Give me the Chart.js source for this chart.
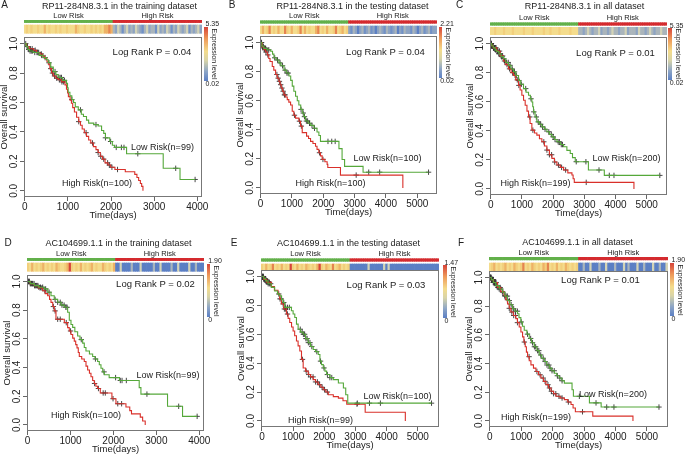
<!DOCTYPE html>
<html>
<head>
<meta charset="utf-8">
<script src="https://cdn.jsdelivr.net/npm/chart.js@4.4.1/dist/chart.umd.min.js"></script>
<style>
  body { margin: 0; background: #fff; }
  #fig { position: relative; width: 685px; height: 455px; overflow: hidden; font-family: "Liberation Sans", Arial, sans-serif; color: #222; }
  .t { position: absolute; white-space: nowrap; transform: translate(-50%, -50%); line-height: 1; }
</style>
</head>
<body>
<div id="fig"></div>
<script>
// ---- axis ticks ----
const ticks4000 = [0, 1000, 2000, 3000, 4000];
const ticks5000 = [0, 1000, 2000, 3000, 4000, 5000];
const yTicks = [0, 0.2, 0.4, 0.6, 0.8, 1.0];

// ---- KM curves: [time(days), survival] ----
const aLow = [[0,1],[30,0.98],[70,0.96],[110,0.95],[190,0.94],[330,0.92],[430,0.905],[500,0.89],[545,0.87],[600,0.84],[660,0.81],[720,0.79],[775,0.77],[870,0.75],[965,0.73],[990,0.70],[1005,0.67],[1045,0.645],[1090,0.62],[1130,0.6],[1170,0.57],[1240,0.55],[1310,0.52],[1360,0.505],[1430,0.48],[1480,0.46],[1600,0.45],[1700,0.44],[1780,0.41],[1830,0.39],[1870,0.36],[1970,0.335],[2030,0.31],[2080,0.295],[2360,0.252],[3210,0.153],[3600,0.077],[3950,0.077]];
const aHigh = [[0,1],[40,0.98],[100,0.965],[200,0.955],[270,0.94],[350,0.93],[410,0.915],[460,0.9],[510,0.88],[545,0.86],[580,0.83],[620,0.8],[660,0.78],[720,0.765],[775,0.755],[850,0.74],[930,0.72],[965,0.69],[990,0.665],[1010,0.64],[1050,0.615],[1080,0.595],[1110,0.565],[1150,0.535],[1200,0.5],[1250,0.47],[1290,0.445],[1330,0.42],[1380,0.395],[1430,0.37],[1480,0.345],[1530,0.325],[1590,0.3],[1650,0.28],[1700,0.26],[1750,0.235],[1800,0.215],[1860,0.19],[1930,0.175],[1990,0.16],[2090,0.145],[2330,0.13],[2550,0.112],[2600,0.09],[2640,0.07],[2680,0.05],[2710,0.03],[2740,0]];
const aLowCens = [50,90,120,150,180,230,280,320,390,470,560,700,790,820,850,880,920,1090,1290,1650,1870,1990,2120,2240,2300,2620,3500,3950];
const aHighCens = [20,60,130,170,240,300,380,600,640,690,740,800,860,900,1250,1420,1570,1700,1760,1830,1920,1960,2020,2150];

const bLow = [[0,1],[40,0.975],[100,0.96],[200,0.95],[320,0.94],[380,0.92],[425,0.895],[500,0.88],[585,0.86],[650,0.84],[745,0.81],[820,0.79],[905,0.77],[960,0.74],[1010,0.70],[1060,0.665],[1115,0.63],[1170,0.6],[1220,0.57],[1280,0.54],[1330,0.515],[1380,0.49],[1435,0.46],[1520,0.445],[1600,0.43],[1700,0.41],[1800,0.385],[1860,0.36],[1910,0.32],[2500,0.27],[2600,0.195],[2680,0.148],[3270,0.108],[5360,0.108]];
const bHigh = [[0,1],[50,0.97],[106,0.95],[160,0.935],[213,0.915],[260,0.89],[300,0.87],[372,0.835],[420,0.81],[478,0.78],[530,0.755],[584,0.733],[620,0.71],[658,0.687],[700,0.665],[744,0.64],[800,0.625],[850,0.607],[900,0.59],[956,0.57],[1009,0.527],[1060,0.5],[1115,0.48],[1221,0.459],[1274,0.425],[1328,0.38],[1466,0.356],[1530,0.34],[1593,0.32],[1670,0.305],[1752,0.287],[1800,0.265],[1858,0.242],[1910,0.22],[1964,0.196],[2050,0.18],[2123,0.162],[2144,0.14],[2548,0.088],[4540,0]];
const bLowCens = [20,50,80,120,160,200,260,450,540,620,700,780,840,880,1290,1360,1400,1460,1500,1560,1640,1720,2150,2270,2380,3450,3800,5360];
const bHighCens = [30,60,90,130,170,230,520,560,600,640,680,720,760,780,1080,1240,1300,1880,1990,3050];

const cLow = [[0,1],[30,0.985],[80,0.97],[140,0.955],[193,0.945],[260,0.93],[330,0.91],[407,0.895],[480,0.87],[567,0.85],[650,0.825],[728,0.805],[800,0.78],[889,0.746],[960,0.72],[1049,0.69],[1130,0.665],[1210,0.644],[1270,0.62],[1317,0.598],[1345,0.565],[1370,0.53],[1420,0.495],[1477,0.461],[1560,0.445],[1638,0.427],[1720,0.41],[1799,0.393],[1880,0.375],[1960,0.358],[2040,0.34],[2120,0.324],[2230,0.305],[2334,0.29],[2440,0.265],[2548,0.244],[2620,0.215],[2709,0.187],[3130,0.13],[3640,0.093],[5420,0.093]];
const cHigh = [[0,1],[30,0.985],[80,0.97],[193,0.948],[300,0.915],[407,0.88],[480,0.855],[567,0.826],[650,0.8],[728,0.781],[800,0.75],[889,0.712],[940,0.68],[996,0.644],[1050,0.61],[1103,0.575],[1160,0.535],[1210,0.495],[1260,0.45],[1317,0.404],[1400,0.385],[1477,0.37],[1560,0.345],[1638,0.324],[1720,0.295],[1799,0.267],[1880,0.235],[1960,0.21],[2040,0.185],[2120,0.164],[2230,0.148],[2334,0.13],[2470,0.11],[2602,0.096],[2640,0.07],[2677,0.045],[4590,0]];
const cLowCens = [10,20,35,50,60,75,90,110,130,160,200,230,260,300,350,420,500,560,620,690,760,820,900,980,1120,1290,1380,1460,1520,1600,1660,1740,1860,1940,2000,2060,2160,2200,2260,2300,2740,3050,3470,3800,3950,5420];
const cHighCens = [15,30,45,65,85,110,140,170,220,280,330,380,440,520,600,700,780,850,900,1250,1350,1700,1800,1880,1950,2050,2170,2270,2400,3060];

const dLow = [[0,1],[60,0.985],[156,0.971],[260,0.96],[389,0.948],[470,0.925],[544,0.9],[620,0.875],[699,0.855],[780,0.835],[855,0.82],[932,0.785],[971,0.73],[1010,0.7],[1049,0.68],[1100,0.65],[1165,0.62],[1220,0.595],[1282,0.57],[1320,0.54],[1359,0.515],[1440,0.495],[1515,0.477],[1570,0.46],[1631,0.442],[1670,0.42],[1709,0.395],[1750,0.37],[1786,0.35],[1900,0.33],[2140,0.31],[2600,0.26],[2640,0.215],[3260,0.13],[3610,0.06],[3950,0.06]];
const dHigh = [[0,1],[60,0.985],[156,0.971],[250,0.955],[350,0.935],[410,0.915],[466,0.9],[510,0.875],[544,0.854],[585,0.825],[621,0.795],[660,0.737],[855,0.713],[932,0.678],[970,0.655],[1010,0.63],[1050,0.605],[1087,0.584],[1120,0.56],[1150,0.537],[1180,0.505],[1204,0.477],[1260,0.46],[1320,0.442],[1360,0.41],[1398,0.383],[1440,0.36],[1476,0.336],[1515,0.31],[1553,0.289],[1590,0.27],[1631,0.254],[1693,0.223],[1964,0.183],[2058,0.148],[2291,0.125],[2380,0.1],[2420,0.077],[2625,0.055],[2680,0.028],[2740,0]];
const dLowCens = [20,40,60,90,120,150,180,220,260,300,350,420,500,640,700,760,800,850,890,920,1250,1580,1780,2050,2160,2200,2300,2780,3520,3950];
const dHighCens = [30,70,110,160,200,240,290,330,400,600,640,700,760,900,1000,1560,1650,1760,1810,1990,2100,2190];

const eLow = [[0,1],[60,0.985],[120,0.97],[194,0.95],[300,0.925],[409,0.9],[500,0.88],[570,0.867],[630,0.84],[677,0.82],[731,0.786],[946,0.763],[1000,0.74],[1054,0.716],[1108,0.67],[1161,0.635],[1240,0.615],[1323,0.6],[1400,0.57],[1484,0.542],[1560,0.515],[1645,0.495],[1720,0.48],[1806,0.46],[1860,0.414],[1910,0.39],[1968,0.367],[2020,0.345],[2075,0.321],[2180,0.3],[2290,0.286],[2452,0.263],[2613,0.228],[2688,0.181],[2753,0.123],[5440,0.123]];
const eHigh = [[0,1],[60,0.98],[150,0.96],[301,0.93],[400,0.905],[516,0.879],[570,0.845],[624,0.81],[700,0.775],[785,0.74],[840,0.71],[892,0.681],[950,0.65],[1000,0.623],[1050,0.59],[1108,0.553],[1160,0.52],[1215,0.484],[1269,0.426],[1323,0.367],[1400,0.345],[1484,0.321],[1560,0.305],[1645,0.286],[1720,0.27],[1806,0.251],[1890,0.233],[1968,0.216],[2050,0.2],[2129,0.181],[2290,0.168],[2452,0.158],[2600,0.14],[2720,0.116],[3312,0.06],[4600,0]];
const eLowCens = [15,30,45,60,80,100,130,160,200,240,280,700,760,820,880,1230,1290,1330,1370,1410,1450,1490,1540,1600,1760,1880,1990,2100,2180,2240,3060,3450,3800,5440];
const eHighCens = [20,40,70,100,130,160,200,240,540,580,620,680,720,760,820,1300,1420,1500,1560,1640,1720,1780,1850,1930,2010,2100,3050];

const fLow = [[0,1],[50,0.985],[110,0.965],[191,0.943],[300,0.92],[404,0.897],[480,0.87],[564,0.839],[640,0.81],[723,0.782],[800,0.765],[883,0.747],[930,0.72],[989,0.69],[1040,0.66],[1096,0.632],[1180,0.605],[1255,0.575],[1330,0.545],[1415,0.517],[1500,0.49],[1574,0.46],[1650,0.437],[1734,0.414],[1810,0.39],[1894,0.368],[1970,0.35],[2053,0.333],[2130,0.315],[2213,0.299],[2290,0.28],[2372,0.264],[2617,0.218],[2660,0.172],[3170,0.126],[3543,0.097],[5383,0.097]];
const fHigh = [[0,1],[50,0.985],[120,0.965],[245,0.93],[350,0.9],[457,0.874],[510,0.845],[564,0.816],[620,0.785],[670,0.759],[750,0.735],[830,0.713],[880,0.685],[936,0.655],[990,0.62],[1043,0.586],[1085,0.55],[1128,0.517],[1165,0.48],[1202,0.448],[1255,0.42],[1309,0.391],[1390,0.368],[1468,0.345],[1550,0.322],[1628,0.299],[1710,0.276],[1787,0.253],[1870,0.23],[1947,0.207],[2030,0.19],[2106,0.172],[2240,0.16],[2372,0.149],[2480,0.132],[2585,0.115],[2650,0.09],[2723,0.064],[3277,0.034],[4555,0]];
const fLowCens = [10,20,30,45,60,75,90,110,130,150,180,210,250,300,350,420,480,520,560,620,680,760,820,880,1000,1200,1300,1360,1420,1460,1520,1560,1620,1700,1760,1820,1880,1920,1980,2050,2150,2230,2300,2850,3380,3720,3950,5383];
const fHighCens = [15,30,50,70,90,115,140,170,200,260,330,400,480,560,620,700,760,820,880,1100,1250,1500,1600,1700,1760,1850,1900,1960,2030,2100,2200,2300,2500,2950];

// ---- expression strips (0 = low ... 9 = high) ----
const aHeatLow = [5,6,5,6,5,5,6,5,5,7,5,6,5,5,6,5,6,5,5,6,5,5,5,7,6,5,5,6,5,5,6,5,6,5,6,5,7,7,8,7];
const aHeatHigh = [3,2,4,3,1,3,4,2,3,2,4,3,2,1,3,4,2,3,3,1,4,2,3,2,4,3,1,3,2,4,3,2,3,4,1,3,2,3,4,2];
const bHeatLow = [5,7,5,6,8,5,6,5,7,5,5,8,6,5,7,5,5,6,8,5,7,5,6,5,5,7,8,5,6,5,7,5,5,6,8,5,6,7,5,6];
const bHeatHigh = [2,1,3,2,0,2,3,1,2,3,1,2,0,2,3,2,1,3,2,1,2,3,0,2,1,3,2,2,1,3,2,0,2,3,1,2,3,1,2,2];
const cHeatLow = [5,5,6,5,5,5,6,5,5,5,6,5,5,5,5,6,5,5,5,6,5,5,5,5,6,5,5,6,5,5,5,6,5,5,5,5,6,5,5,5];
const cHeatHigh = [3,3,2,3,4,3,2,3,3,4,2,3,3,2,3,4,3,3,2,3,3,4,2,3,3,3,2,4,3,3,2,3,4,3,2,3,3,4,3,3];
const dHeatLow = [6,5,7,5,6,5,6,7,5,6,5,6,5,7,6,5,5,6,7,9,6,5,6,5,7,5,6,5,6,7,5,6,5,5,7,6,5,6,5,7];
const dHeatHigh = [0,0,4,0,0,0,0,3,0,0,0,4,0,0,0,0,0,3,0,0,4,0,0,0,0,3,0,0,4,0,0,0,0,4,0,0,3,0,0,0];
const eHeatLow = [6,5,7,5,6,8,5,6,5,7,5,6,5,9,6,5,7,5,6,5,7,6,5,6,5,7,9,6,5,7,6,5,8,5,6,7,5,6,5,6];
const eHeatHigh = [0,0,0,0,0,0,0,0,4,0,0,0,0,0,0,4,0,4,0,0,0,0,0,0,0,0,0,0,0,0,0,0,0,0,0,0,0,0,0,0];
const fHeatLow = [5,6,7,5,6,5,6,7,5,6,5,7,6,5,6,8,5,6,5,7,6,5,6,5,7,6,8,5,6,5,7,5,6,5,7,6,5,6,5,6];
const fHeatHigh = [0,0,3,0,0,4,0,0,0,3,0,0,4,0,0,0,3,0,0,0,4,0,3,0,0,0,4,0,0,3,0,0,0,4,0,0,3,0,0,4];

const PAL = ['#5b7fc4','#7191c6','#8da3c2','#aab5bb','#d3d3b6','#f4dc8c','#f2cf7c','#eeb266','#e5844f','#d6443a'];
const GREEN = '#55a83a', RED = '#d9302a';
const RISK_GREEN = '#62b04a', RISK_RED = '#d42a2e';
const FONT = '"Liberation Sans", Arial, sans-serif';

const panels = [
  {id:'A', title:'RP11-284N8.3.1 in the training dataset', p:'0.04', nLow:99, nHigh:100,
   low:aLow, high:aHigh, lowCens:aLowCens, highCens:aHighCens, heatLow:aHeatLow, heatHigh:aHeatHigh,
   xTicks:ticks4000, xMin:-20, xMax:4110, cbMax:'5.35', cbMin:'0.02',
   box:[24,37,178,160], strip:[20,25,33.3], cb:[204,26.7,81],
   letter:[4.5,4.5], titleAt:[119.5,5.5], pAt:[152,52], lowAt:[162.5,147], highAt:[97,183]},
  {id:'B', title:'RP11-284N8.3.1 in the testing dataset', p:'0.04', nLow:100, nHigh:100,
   low:bLow, high:bHigh, lowCens:bLowCens, highCens:bHighCens, heatLow:bHeatLow, heatHigh:bHeatHigh,
   xTicks:ticks5000, xMin:-20, xMax:5630, cbMax:'2.21', cbMin:'0.02',
   box:[260,36,177,158], strip:[20.7,26,34], cb:[438.7,26.7,78.3],
   letter:[232,4.5], titleAt:[352.5,5.5], pAt:[385.5,52], lowAt:[387.5,158], highAt:[330.5,183]},
  {id:'C', title:'RP11-284N8.3.1 in all dataset', p:'0.01', nLow:200, nHigh:199,
   low:cLow, high:cHigh, lowCens:cLowCens, highCens:cHighCens, heatLow:cHeatLow, heatHigh:cHeatHigh,
   xTicks:ticks5000, xMin:-25, xMax:5650, cbMax:'5.35', cbMin:'0.02',
   box:[490,37,177,158], strip:[22.7,27.3,34.7], cb:[668.3,28.3,80],
   letter:[459.5,4.5], titleAt:[584.5,6], pAt:[615.5,53], lowAt:[626.5,158], highAt:[535.5,183]},
  {id:'D', title:'AC104699.1.1 in the training dataset', p:'0.02', nLow:99, nHigh:100,
   low:dLow, high:dHigh, lowCens:dLowCens, highCens:dHighCens, heatLow:dHeatLow, heatHigh:dHeatHigh,
   xTicks:ticks4000, xMin:-15, xMax:4110, cbMax:'1.90', cbMin:'0',
   box:[27,275,177,156], strip:[258,263,271.3], cb:[206.7,264,317],
   letter:[8,243.3], titleAt:[118.5,243], pAt:[155.5,284], lowAt:[168,375], highAt:[86,415]},
  {id:'E', title:'AC104699.1.1 in the testing dataset', p:'0.03', nLow:100, nHigh:99,
   low:eLow, high:eHigh, lowCens:eLowCens, highCens:eHighCens, heatLow:eHeatLow, heatHigh:eHeatHigh,
   xTicks:ticks5000, xMin:-30, xMax:5680, cbMax:'1.47', cbMin:'0',
   box:[261,270,178,157], strip:[258.7,264,269.7], cb:[443,265.3,318],
   letter:[234,242.5], titleAt:[348.5,243.3], pAt:[386,285], lowAt:[397.5,396], highAt:[320.5,420]},
  {id:'F', title:'AC104699.1.1 in all dataset', p:'0.01', nLow:200, nHigh:199,
   low:fLow, high:fHigh, lowCens:fLowCens, highCens:fHighCens, heatLow:fHeatLow, heatHigh:fHeatHigh,
   xTicks:ticks5000, xMin:-25, xMax:5670, cbMax:'1.90', cbMin:'0',
   box:[489,271,179,156], strip:[257.3,263,270.7], cb:[670,263,316.3],
   letter:[461,242.5], titleAt:[577.5,242], pAt:[600.5,280], lowAt:[613,394], highAt:[536,417]}
];

const fig = document.getElementById('fig');

function text(str, x, y, size, extra) {
  const d = document.createElement('div');
  d.className = 't';
  d.textContent = str;
  d.style.left = x + 'px';
  d.style.top = y + 'px';
  d.style.fontSize = size + 'px';
  if (extra) Object.assign(d.style, extra);
  fig.appendChild(d);
}

function canvasAt(left, top, w, h) {
  const cv = document.createElement('canvas');
  cv.width = w; cv.height = h;
  cv.style.cssText = `position:absolute;left:${left}px;top:${top}px;width:${w}px;height:${h}px`;
  fig.appendChild(cv);
  return cv;
}

// survival value just after time t (step function)
function survAt(curve, t) {
  let s = curve[0][1];
  for (const [x, y] of curve) {
    if (x <= t) s = y; else break;
  }
  return s;
}

const boxPlugin = {
  id: 'box',
  afterDraw(chart) {
    const {ctx, chartArea: a} = chart;
    ctx.save();
    ctx.strokeStyle = '#777';
    ctx.lineWidth = 1;
    ctx.strokeRect(Math.round(a.left) + 0.5, Math.round(a.top) + 0.5, Math.round(a.width) - 1, Math.round(a.height) - 1);
    ctx.restore();
  }
};

// R-style y tick labels, turned to read bottom-to-top
const yLabelPlugin = {
  id: 'yLabels',
  afterDraw(chart) {
    const {ctx, chartArea: a, scales: {y}} = chart;
    ctx.save();
    ctx.fillStyle = '#222';
    ctx.font = '10px ' + FONT;
    ctx.textAlign = 'center';
    ctx.textBaseline = 'middle';
    yTicks.forEach(v => {
      ctx.save();
      ctx.translate(a.left - 9.5, y.getPixelForValue(v));
      ctx.rotate(-Math.PI / 2);
      ctx.fillText(v.toFixed(1), 0, 0);
      ctx.restore();
    });
    ctx.restore();
  }
};

function drawKM(pn) {
  const [bx, by, bw, bh] = pn.box;
  const padL = 26, padT = 8, padR = 22, padB = 26;
  const cv = canvasAt(bx - padL, by - padT, bw + padL + padR, bh + padT + padB);
  const pts = c => c.map(([x, y]) => ({x, y}));
  const cens = (c, ts) => ts.map(t => ({x: t, y: survAt(c, t)}));
  const tickFont = {family: FONT, size: 10};
  const titleFont = {family: FONT, size: 9.5};

  new Chart(cv, {
    type: 'line',
    data: {
      datasets: [
        {data: pts(pn.low), borderColor: GREEN, borderWidth: 1.1, stepped: true, pointRadius: 0, fill: false},
        {data: pts(pn.high), borderColor: RED, borderWidth: 1.1, stepped: true, pointRadius: 0, fill: false},
        {data: cens(pn.low, pn.lowCens), showLine: false, pointStyle: 'cross', pointRadius: 2.7, borderColor: '#333', borderWidth: 0.9},
        {data: cens(pn.high, pn.highCens), showLine: false, pointStyle: 'cross', pointRadius: 2.7, borderColor: '#333', borderWidth: 0.9}
      ]
    },
    options: {
      responsive: false,
      animation: false,
      devicePixelRatio: 1,
      layout: {padding: {left: 0, top: padT, right: padR, bottom: 0}},
      plugins: {legend: {display: false}, tooltip: {enabled: false}},
      scales: {
        x: {
          type: 'linear', min: pn.xMin, max: pn.xMax,
          afterBuildTicks: s => { s.ticks = pn.xTicks.map(v => ({value: v})); },
          afterFit: s => { s.height = padB; },
          ticks: {font: tickFont, color: '#222', padding: 0, maxRotation: 0, autoSkip: false, callback: v => String(v)},
          grid: {drawOnChartArea: false, tickLength: 4, color: '#666'},
          border: {display: false},
          title: {display: true, text: 'Time(days)', font: titleFont, color: '#222', padding: {top: 0, bottom: 2}}
        },
        y: {
          min: -0.042, max: 1.045,
          afterBuildTicks: s => { s.ticks = yTicks.map(v => ({value: v})); },
          afterFit: s => { s.width = padL; },
          ticks: {display: false},
          grid: {drawOnChartArea: false, tickLength: 4, color: '#666'},
          border: {display: false},
          title: {display: true, text: 'Overall survival', font: titleFont, color: '#222', padding: {top: 1, bottom: 0}}
        }
      }
    },
    plugins: [boxPlugin, yLabelPlugin]
  });
}

function drawStrip(pn) {
  const [bx, , bw] = pn.box;
  const [rY, hY0, hY1] = pn.strip;
  const top = Math.floor(rY);
  const H = Math.ceil(hY1) - top;
  const cv = canvasAt(bx, top, bw, H);
  const heat = pn.heatLow.concat(pn.heatHigh);
  const nLowCells = pn.heatLow.length;
  const r0 = rY - top, r1 = r0 + 2.6;
  const h0 = hY0 - top, h1 = hY1 - top;

  new Chart(cv, {
    type: 'bar',
    data: {
      labels: heat.map((_, i) => i),
      datasets: [
        {data: heat.map(() => [r0, r1]), backgroundColor: heat.map((_, i) => i < nLowCells ? RISK_GREEN : RISK_RED)},
        {data: heat.map(() => [h0, h1]), backgroundColor: heat.map(v => PAL[v])}
      ]
    },
    options: {
      responsive: false,
      animation: false,
      devicePixelRatio: 1,
      layout: {padding: 0},
      plugins: {legend: {display: false}, tooltip: {enabled: false}},
      datasets: {bar: {grouped: false, categoryPercentage: 1, barPercentage: 1, borderWidth: 0}},
      scales: {
        x: {display: false},
        y: {display: false, min: 0, max: H, reverse: true}
      }
    }
  });

  const mid = bx + bw * nLowCells / heat.length;
  text('Low Risk', (bx + mid) / 2, rY - 4.5, 7.5);
  text('High Risk', (mid + bx + bw) / 2, rY - 4.5, 7.5);
}

function drawColorbar(pn) {
  const [cx, y0, y1] = pn.cb;
  const d = document.createElement('div');
  d.style.cssText = `position:absolute;left:${cx}px;top:${y0}px;width:3.5px;height:${y1 - y0}px;` +
    'background:linear-gradient(to bottom,#d6443a 0%,#ee9a5a 22%,#f4dc8c 45%,#d8d4a8 62%,#8ea6c6 82%,#5b7fc4 100%)';
  fig.appendChild(d);
  text(pn.cbMax, cx + 1.5, y0 - 3.7, 7, {transform: 'translate(0,-50%)'});
  text(pn.cbMin, cx + 1.5, y1 + 2, 7, {transform: 'translate(0,-50%)'});
  text('Expression level', cx + 9.5, (y0 + y1) / 2, 7, {transform: 'translate(-50%,-50%) rotate(90deg)'});
}

panels.forEach(pn => {
  drawKM(pn);
  drawStrip(pn);
  drawColorbar(pn);
  text(pn.id, pn.letter[0], pn.letter[1], 10);
  text(pn.title, pn.titleAt[0], pn.titleAt[1], 9);
  text('Log Rank P = ' + pn.p, pn.pAt[0], pn.pAt[1], 9.5);
  text('Low Risk(n=' + pn.nLow + ')', pn.lowAt[0], pn.lowAt[1], 9);
  text('High Risk(n=' + pn.nHigh + ')', pn.highAt[0], pn.highAt[1], 9);
});
</script>
</body>
</html>
